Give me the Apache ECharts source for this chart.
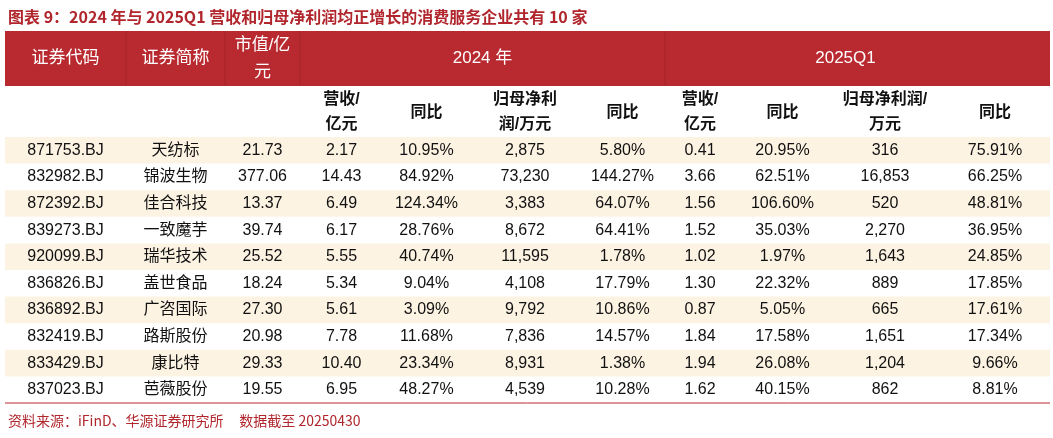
<!DOCTYPE html><html><head><meta charset="utf-8"><script src="https://cdn.jsdelivr.net/npm/echarts@6/dist/echarts.min.js"></script>
<style>html,body{margin:0;background:#fff}#c{width:1053px;height:438px}</style></head><body><div id="c"></div><script>
const title='图表 9：2024 年与 2025Q1 营收和归母净利润均正增长的消费服务企业共有 10 家';
const source='资料来源：iFinD、华源证券研究所     数据截至 20250430';
const codes=['871753.BJ','832982.BJ','872392.BJ','839273.BJ','920099.BJ','836826.BJ','836892.BJ','832419.BJ','833429.BJ','837023.BJ'];
const names=['天纺标','锦波生物','佳合科技','一致魔芋','瑞华技术','盖世食品','广咨国际','路斯股份','康比特','芭薇股份'];
const mktCap=['21.73','377.06','13.37','39.74','25.52','18.24','27.30','20.98','29.33','19.55'];
const rev24=['2.17','14.43','6.49','6.17','5.55','5.34','5.61','7.78','10.40','6.95'];
const revYoy24=['10.95%','84.92%','124.34%','28.76%','40.74%','9.04%','3.09%','11.68%','23.34%','48.27%'];
const np24=['2,875','73,230','3,383','8,672','11,595','4,108','9,792','7,836','8,931','4,539'];
const npYoy24=['5.80%','144.27%','64.07%','64.41%','1.78%','17.79%','10.86%','14.57%','1.38%','10.28%'];
const rev25=['0.41','3.66','1.56','1.52','1.02','1.30','0.87','1.84','1.94','1.62'];
const revYoy25=['20.95%','62.51%','106.60%','35.03%','1.97%','22.32%','5.05%','17.58%','26.08%','40.15%'];
const np25=['316','16,853','520','2,270','1,643','889','665','1,651','1,204','862'];
const npYoy25=['75.91%','66.25%','48.81%','36.95%','24.85%','17.85%','17.61%','17.34%','9.66%','8.81%'];
const header1=['证券代码','证券简称','市值/亿\n元'];
const group=['2024 年','2025Q1'];
const header2=['营收/\n亿元','同比','归母净利\n润/万元','同比','营收/\n亿元','同比','归母净利润/\n万元','同比'];
const cols=[codes,names,mktCap,rev24,revYoy24,np24,npYoy24,rev25,revYoy25,np25,npYoy25];
const E=[5,126,225,300,383,470,580,665,735,830,940,1050];
const T=31,H1=86,H2=137,RH=26.6;
const F='"Liberation Sans","Noto Sans CJK SC",sans-serif';
const rows=codes.map((c,i)=>[i]);
function txt(x,y,s,st){return {type:'text',style:Object.assign({x,y,text:s,align:'center',verticalAlign:'middle',font:'16px '+F,fill:'#111'},st||{})};}
const ch=echarts.init(document.getElementById('c'));
ch.setOption({animation:false,
 xAxis:{type:'value',min:0,max:1053,show:false},yAxis:{type:'value',min:0,max:438,inverse:true,show:false},
 grid:{left:0,right:0,top:0,bottom:0},
 series:[{type:'custom',coordinateSystem:'cartesian2d',data:[[0]],renderItem:(p,api)=>{
   const c=[];const px=(x,y)=>api.coord([x,y]);
   const a=px(E[0],T),b=px(E[11],H1);
   c.push({type:'rect',shape:{x:a[0],y:a[1],width:b[0]-a[0],height:b[1]-a[1]},style:{fill:'#b92a30'}});
   [1,2,3,7].forEach(k=>{const p1=px(E[k],T),p2=px(E[k],H1);c.push({type:'line',shape:{x1:p1[0],y1:p1[1],x2:p2[0],y2:p2[1]},style:{stroke:'#a8232a',lineWidth:1}});});
   header1.forEach((h,k)=>{const q=px((E[k]+E[k+1])/2,(T+H1)/2);c.push(txt(q[0],q[1],h,{fill:'#fff',font:'17px '+F,lineHeight:27}));});
   [[3,7],[7,11]].forEach((r,k)=>{const q=px((E[r[0]]+E[r[1]])/2-(k?12:0),(T+H1)/2);c.push(txt(q[0],q[1],group[k],{fill:'#fff',font:'17px '+F}));});
   header2.forEach((h,k)=>{const q=px((E[k+3]+E[k+4])/2,(H1+H2)/2+1);c.push(txt(q[0],q[1],h,{font:'bold 16px '+F,lineHeight:25}));});
   const t=px(8,17);c.push({type:'text',style:{x:t[0],y:t[1],text:title,verticalAlign:'middle',font:'bold 16px "Noto Sans CJK SC",sans-serif',fill:'#b0262c'}});
   const s=px(8,421);c.push({type:'text',style:{x:s[0],y:s[1],text:source,verticalAlign:'middle',font:'14px "Noto Sans CJK SC",sans-serif',fill:'#b0262c'}});
   return {type:'group',children:c};}},
 {type:'custom',coordinateSystem:'cartesian2d',data:rows,renderItem:(p,api)=>{
   const i=api.value(0);const c=[];const y0=H2+i*RH;
   const a=api.coord([E[0],y0]),b=api.coord([E[11],y0+RH]);
   if(i%2===0)c.push({type:'rect',shape:{x:a[0],y:a[1],width:b[0]-a[0],height:b[1]-a[1]},style:{fill:'#fdf3e3'}});
   cols.forEach((col,k)=>{const q=api.coord([(E[k]+E[k+1])/2,y0+RH/2]);c.push(txt(q[0],q[1],col[i]));});
   if(i===codes.length-1){c.push({type:'line',shape:{x1:a[0],y1:b[1],x2:b[0],y2:b[1]},style:{stroke:'#b92a30',lineWidth:1}});}
   return {type:'group',children:c};}}]});
</script></body></html>
